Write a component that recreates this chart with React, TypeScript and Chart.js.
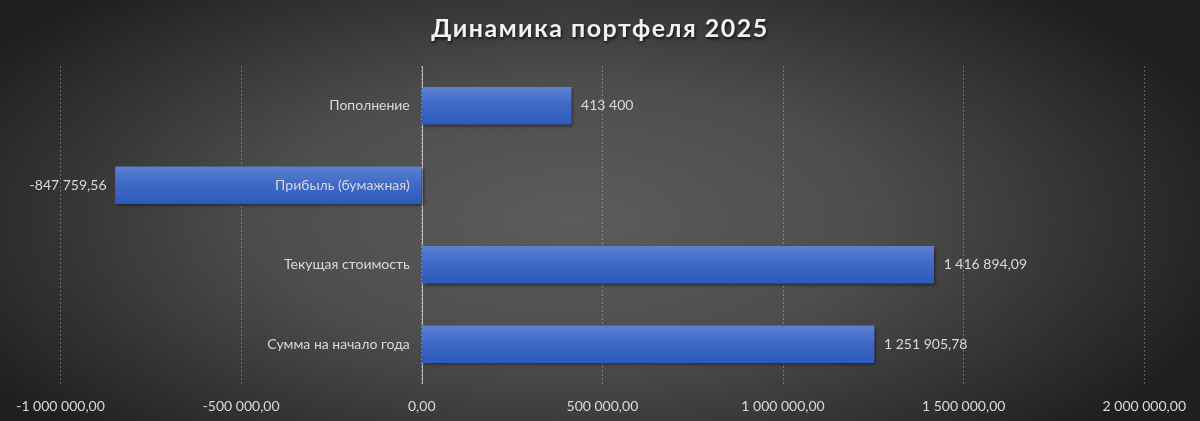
import { useEffect, useRef } from "react";
import { Chart, registerables, Plugin } from "chart.js";
Chart.register(...registerables);

const chartTitle = "Динамика портфеля 2025";
const categories = ["Пополнение", "Прибыль (бумажная)", "Текущая стоимость", "Сумма на начало года"];
const values = [413400, -847759.56, 1416894.09, 1251905.78];
const axisMin = -1000000;
const axisMax = 2000000;
const axisStep = 500000;

const textColor = "#d9d9d9";
const fontFamily = "Lato, 'Open Sans', sans-serif";

// "1 251 905,78" style
const fmt = (v: number, decimals: boolean) => {
  const neg = v < 0;
  const abs = Math.abs(v);
  let intPart = Math.floor(abs + 1e-9);
  let frac = Math.round((abs - intPart) * 100);
  if (frac === 100) {
    intPart += 1;
    frac = 0;
  }
  const s = String(intPart).replace(/\B(?=(\d{3})+(?!\d))/g, " ");
  const out = decimals ? s + "," + String(frac).padStart(2, "0") : s;
  return (neg ? "-" : "") + out;
};

const bgPlugin: Plugin = {
  id: "bg",
  beforeDraw(chart) {
    const { ctx, width, height } = chart;
    ctx.save();
    ctx.fillStyle = "#232323";
    ctx.fillRect(0, 0, width, height);
    ctx.translate(570, 220);
    ctx.scale(1, 0.45);
    const g = ctx.createRadialGradient(0, 0, 0, 0, 0, 680);
    g.addColorStop(0, "#5c5c5c");
    g.addColorStop(0.45, "#4d4d4d");
    g.addColorStop(1, "#202020");
    ctx.fillStyle = g;
    ctx.fillRect(-900, -900, 1800, 1800);
    ctx.restore();
  },
  afterDraw(chart) {
    const { ctx, width } = chart;
    ctx.save();
    ctx.font = `bold 25px ${fontFamily}`;
    (ctx as any).letterSpacing = "1.5px";
    ctx.textAlign = "center";
    ctx.textBaseline = "middle";
    ctx.shadowColor = "rgba(0,0,0,0.7)";
    ctx.shadowOffsetX = 1;
    ctx.shadowOffsetY = 2;
    ctx.shadowBlur = 3;
    ctx.fillStyle = "#f2f2f2";
    ctx.fillText(chartTitle, width / 2, 29);
    ctx.restore();
  },
};

const labelsPlugin: Plugin = {
  id: "labels",
  beforeDatasetsDraw(chart) {
    const { ctx, chartArea } = chart;
    const x0 = chart.scales.x.getPixelForValue(0);
    ctx.save();
    ctx.strokeStyle = "rgba(255,255,255,0.6)";
    ctx.lineWidth = 1;
    ctx.beginPath();
    ctx.moveTo(Math.round(x0) + 0.5, chartArea.top);
    ctx.lineTo(Math.round(x0) + 0.5, chartArea.bottom);
    ctx.stroke();
    // shadow for bars
    ctx.shadowColor = "rgba(0,0,0,0.45)";
    ctx.shadowOffsetX = 2;
    ctx.shadowOffsetY = 2;
    ctx.shadowBlur = 3;
  },
  afterDatasetsDraw(chart) {
    const { ctx } = chart;
    ctx.restore();
    const x0 = chart.scales.x.getPixelForValue(0);
    const meta = chart.getDatasetMeta(0);
    ctx.save();
    ctx.font = `14px ${fontFamily}`;
    ctx.fillStyle = textColor;
    ctx.textBaseline = "middle";
    meta.data.forEach((bar: any, i) => {
      const y = bar.y;
      ctx.textAlign = "right";
      ctx.fillText(categories[i], x0 - 12, y);
      const v = values[i];
      const txt = fmt(v, !Number.isInteger(v));
      if (v >= 0) {
        ctx.textAlign = "left";
        ctx.fillText(txt, bar.x + 10, y);
      } else {
        ctx.textAlign = "right";
        ctx.fillText(txt, bar.x - 9, y);
      }
    });
    ctx.restore();
  },
};

export default function App() {
  const canvasRef = useRef<HTMLCanvasElement>(null);

  useEffect(() => {
    document.body.style.margin = "0";
    const canvas = canvasRef.current;
    if (!canvas) return;
    const chart = new Chart(canvas, {
      type: "bar",
      data: {
        labels: categories,
        datasets: [
          {
            data: values,
            barThickness: 37,
            borderWidth: 0,
            backgroundColor: (c: any) => {
              const y = c.chart.scales?.y;
              const yc = y ? y.getPixelForValue(c.dataIndex) : NaN;
              if (!Number.isFinite(yc)) return "#3d66c4";
              const g = c.chart.ctx.createLinearGradient(0, yc - 18, 0, yc + 18);
              g.addColorStop(0, "#5b80d2");
              g.addColorStop(0.5, "#3e68c6");
              g.addColorStop(1, "#2d5bbb");
              return g;
            },
          },
        ],
      },
      options: {
        indexAxis: "y",
        responsive: false,
        animation: false,
        layout: { padding: { top: 66, left: 60.5, right: 3, bottom: 0 } },
        plugins: {
          legend: { display: false },
          tooltip: { enabled: false },
          title: { display: false },
        },
        scales: {
          x: {
            min: axisMin,
            max: axisMax,
            afterFit: (scale: any) => {
              scale.height = 37;
            },
            border: { display: false, dash: [2, 2] },
            grid: {
              color: "rgba(255,255,255,0.28)",
              drawTicks: false,
            },
            ticks: {
              stepSize: axisStep,
              color: textColor,
              padding: 14,
              font: { family: fontFamily, size: 14 },
              callback: (v: any) => fmt(Number(v), true),
            },
          },
          y: {
            display: false,
          },
        },
      },
      plugins: [bgPlugin, labelsPlugin],
    });
    return () => chart.destroy();
  }, []);

  return (
    <div style={{ width: 1200, height: 421 }}>
      <canvas ref={canvasRef} width={1200} height={421} />
    </div>
  );
}
